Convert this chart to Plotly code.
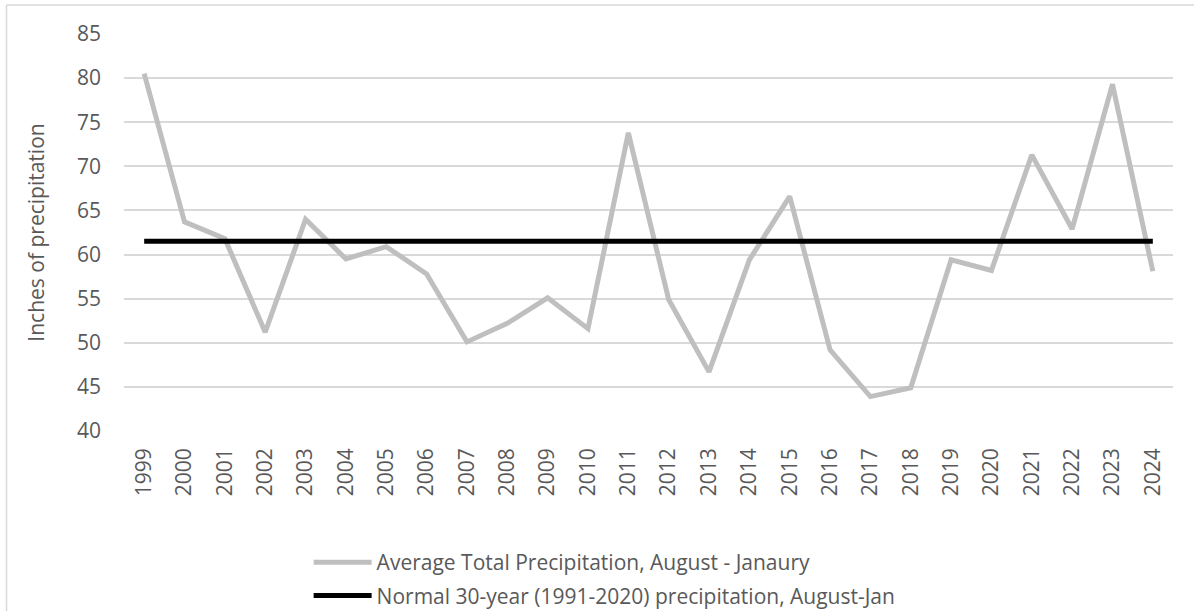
import plotly.graph_objects as go

years = [str(y) for y in range(1999, 2025)]
avg_precip = [80.5, 63.7, 61.8, 51.2, 64.0, 59.5, 60.9, 57.8, 50.1, 52.2, 55.1, 51.6, 73.8,
              54.9, 46.7, 59.4, 66.6, 49.2, 43.9, 44.9, 59.4, 58.2, 71.3, 62.9, 79.3, 58.1]
normal_value = 61.5
normal_precip = [normal_value] * len(years)

series_names = ["Average Total Precipitation, August - Janaury",
                "Normal 30-year (1991-2020) precipitation, August-Jan"]

FONT = "'Open Sans', sans-serif"
TXT = "#595959"
FS = 21

fig = go.Figure()
fig.add_trace(go.Scatter(x=years, y=avg_precip, mode="lines", name=series_names[0],
                         line=dict(color="#BFBFBF", width=5), legendgroup="a"))
fig.add_trace(go.Scatter(x=years, y=normal_precip, mode="lines", name=series_names[1],
                         line=dict(color="#000000", width=5), legendgroup="b"))

fig.update_layout(
    width=1194, height=611,
    margin=dict(l=124, r=21, t=34, b=180, autoexpand=False),
    paper_bgcolor="white", plot_bgcolor="white",
    font=dict(family=FONT, size=FS, color=TXT),
    showlegend=True,
    legend=dict(orientation="v", x=0.176, xanchor="left", y=-0.466, yanchor="bottom",
                font=dict(family=FONT, size=FS, color=TXT),
                tracegroupgap=3, itemwidth=58, bgcolor="rgba(0,0,0,0)"),
    xaxis=dict(type="category", range=[-0.5, 25.5], tickangle=-90, showgrid=False,
               showline=False, zeroline=False, ticks="", ticklabelstandoff=12,
               automargin=False,
               tickfont=dict(family=FONT, size=FS, color=TXT)),
    yaxis=dict(range=[40, 85], dtick=5, tick0=40, showgrid=True, gridcolor="#D9D9D9",
               gridwidth=1.5, zeroline=False, showline=False, ticks="",
               ticklabelstandoff=22, automargin=False,
               tickfont=dict(family=FONT, size=FS, color=TXT),
               title=dict(text="Inches of precipitation", standoff=26,
                          font=dict(family=FONT, size=FS, color=TXT))),
    shapes=[
        dict(type="line", xref="paper", yref="paper", x0=-0.112, x1=1.03, y0=1.073, y1=1.073,
             line=dict(color="#D9D9D9", width=1.5)),
        dict(type="line", xref="paper", yref="paper", x0=-0.112, x1=-0.112, y0=1.073, y1=-0.46,
             line=dict(color="#D9D9D9", width=1.5)),
    ],
)

fig.write_html("out.html", config={"displayModeBar": False},
               post_script="document.body.style.margin='0';")
